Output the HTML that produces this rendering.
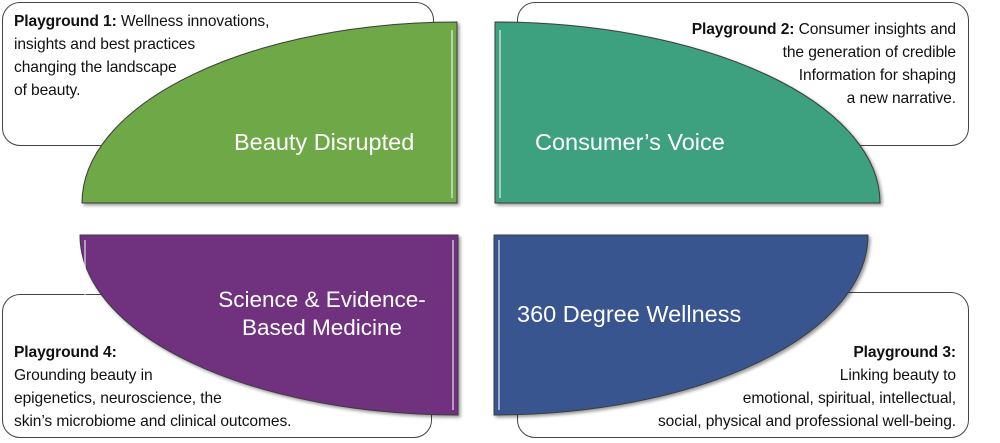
<!DOCTYPE html>
<html><head><style>
body{margin:0;width:1000px;height:443px;background:#fff;position:relative;overflow:hidden;font-family:"Liberation Sans",sans-serif}
.box{position:absolute;border:1.5px solid #444;border-radius:18px;background:#fff;box-sizing:border-box}
.t{position:absolute;font-size:15.6px;line-height:23px;color:#111;white-space:nowrap;letter-spacing:-0.1px}
.r{text-align:right}
svg{position:absolute;left:0;top:0}
</style></head><body>
<div class="box" style="left:2px;top:2px;width:432px;height:144px"></div>
<div class="box" style="left:517px;top:2px;width:452px;height:144px"></div>
<div class="box" style="left:2px;top:294px;width:430px;height:144px"></div>
<div class="box" style="left:517px;top:292px;width:452px;height:146px"></div>
<svg width="1000" height="443">
<defs><filter id="s" x="-5%" y="-5%" width="115%" height="115%"><feDropShadow dx="2" dy="2" stdDeviation="1.5" flood-opacity="0.4"/></filter></defs>
<path d="M82,203 A375,181 0 0 1 457,22 L457,203 Z" fill="#6ea846" stroke="#3d3d3d" stroke-width="1" filter="url(#s)"/>
<path d="M495,22 A385,181 0 0 1 880,203 L495,203 Z" fill="#3ea07e" stroke="#3d3d3d" stroke-width="1" filter="url(#s)"/>
<path d="M80,235 L458,235 L458,415 A378,180 0 0 1 80,235 Z" fill="#70307f" stroke="#3d3d3d" stroke-width="1" filter="url(#s)"/>
<path d="M494,235 L868,235 A374,180 0 0 1 494,415 Z" fill="#39558f" stroke="#3d3d3d" stroke-width="1" filter="url(#s)"/>
<g fill="none" stroke="#fff" stroke-opacity="0.5" stroke-width="2">
<path d="M452,30 L452,198"/><path d="M500,30 L500,198"/><path d="M85,240 L85,300"/><path d="M453,240 L453,410"/><path d="M499,240 L499,410"/>
</g>
<g fill="#fff" font-family="Liberation Sans,sans-serif" font-size="23.5">
<text x="234" y="150">Beauty Disrupted</text>
<text x="535" y="150">Consumer’s Voice</text>
<text x="322" y="307" text-anchor="middle" font-size="22.5">Science &amp; Evidence-</text>
<text x="322" y="335" text-anchor="middle" font-size="22.5">Based Medicine</text>
<text x="517" y="322">360 Degree Wellness</text>
</g>
</svg>
<div class="t" style="left:14px;top:10px"><b>Playground 1:</b> Wellness innovations,<br>insights and best practices<br>changing the landscape<br>of beauty.</div>
<div class="t r" style="right:44px;top:18px"><b>Playground 2:</b> Consumer insights and<br>the generation of credible<br>Information for shaping<br>a new narrative.</div>
<div class="t" style="left:14px;top:341px"><b>Playground 4:</b><br>Grounding beauty in<br>epigenetics, neuroscience, the<br>skin’s microbiome and clinical outcomes.</div>
<div class="t r" style="right:44px;top:341px"><b>Playground 3:</b><br>Linking beauty to<br>emotional, spiritual, intellectual,<br>social, physical and professional well-being.</div>
</body></html>
